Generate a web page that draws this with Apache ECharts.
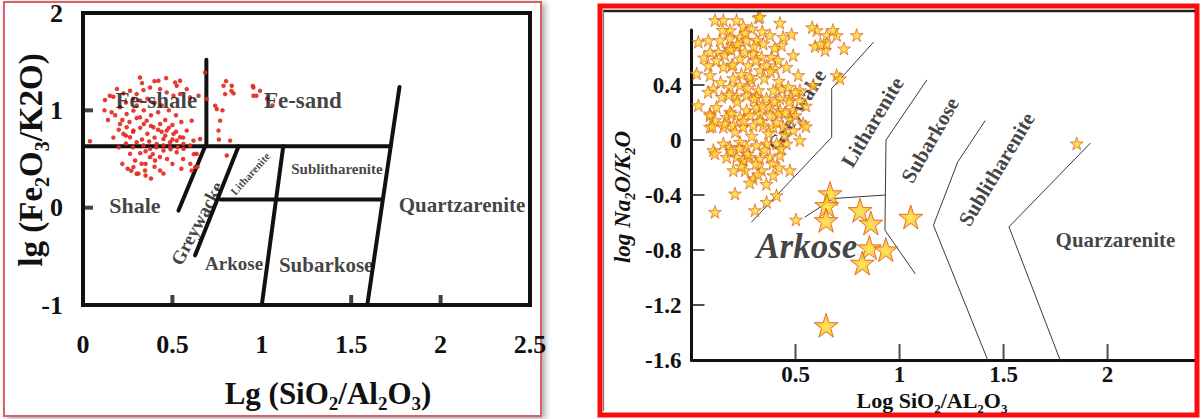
<!DOCTYPE html>
<html><head><meta charset="utf-8">
<script src="https://cdn.jsdelivr.net/npm/echarts@6/dist/echarts.min.js"></script>
<style>html,body{margin:0;padding:0;background:#fff}#c{width:1201px;height:419px}</style>
</head><body><div id="c"></div>
<script>
// ---------- LEFT PANEL DATA (Herron diagram) ----------
const leftXRange = [0, 2.5];
const leftYRange = [-1, 2];
const leftXTickMarks = [0.5, 1.5, 2];
const leftYTickMarks = [0, 1];
const leftLineFeBase = [[0, 0.63], [1.72, 0.63]];
const leftLineFeSplit = [[0.69, 1.52], [0.69, 0.63]];
const leftLineShaleGw = [[0.683, 0.63], [0.534, -0.03]];
const leftLineGwLith = [[0.87, 0.63], [0.627, -0.49]];
const leftLineMiddle = [[0.77, 0.085], [1.665, 0.085]];
const leftLineLithSub = [[1.12, 0.63], [1.0, -1]];
const leftLineQuartz = [[1.77, 1.24], [1.59, -1]];
const leftRegionNames = ['Fe-shale', 'Fe-sand', 'Shale', 'Greywacke', 'Litharenite', 'Sublitharenite', 'Quartzarenite', 'Arkose', 'Subarkose'];
const leftRegionAt = [[0.41, 1.10], [1.23, 1.10], [0.29, 0.025], [0.638, -0.16], [0.935, 0.35], [1.42, 0.40], [2.12, 0.025], [0.845, -0.57], [1.36, -0.59]];
const leftRegionRotate = [0, 0, 0, 62, 48, 0, 0, 0, 0];
const leftRegionSize = [23, 23, 22, 19, 11, 15, 21, 19, 21];
const leftDots = [
[0.319,1.338],[0.422,1.304],[0.465,1.331],[0.515,1.287],[0.524,1.252],[0.543,1.304],[0.580,1.218],[0.683,1.389],[0.786,1.252],[0.832,1.252],
[0.795,1.167],[0.842,1.174],[0.953,1.235],[0.953,1.150],[0.123,1.106],[0.170,1.140],[0.226,1.174],[0.263,1.201],[0.300,1.167],[0.338,1.208],
[0.375,1.235],[0.431,1.218],[0.468,1.184],[0.506,1.150],[0.543,1.167],[0.599,1.133],[0.646,1.150],[0.692,1.116],[0.739,1.048],[0.748,1.014],
[0.767,0.894],[0.758,0.792],[0.823,0.689],[0.804,0.536],[0.039,0.683],[0.207,1.031],[0.244,0.962],[0.282,0.997],[0.319,0.928],[0.356,0.894],
[0.394,0.826],[0.431,0.860],[0.468,0.792],[0.506,0.758],[0.543,0.724],[0.580,0.792],[0.608,0.894],[0.618,0.689],[0.655,0.706],[0.636,0.553],
[0.627,0.417],[0.608,0.382],[0.263,0.553],[0.291,0.485],[0.328,0.451],[0.347,0.382],[0.375,0.519],[0.403,0.485],[0.431,0.382],[0.300,0.348],
[0.282,0.417],[0.450,0.587],[0.487,0.621],[0.524,0.570],[0.562,0.604],[0.226,0.758],[0.263,0.724],[0.300,0.672],[0.338,0.638],[0.375,0.604],
[0.412,0.655],[0.450,0.706],[0.487,0.672],[0.524,0.689],[0.562,0.655],[0.599,0.638],[0.207,0.860],[0.244,0.826],[0.282,0.792],
[0.18,0.95],[0.22,0.90],[0.26,0.88],[0.30,1.05],[0.34,1.00],[0.38,0.95],[0.42,0.98],[0.46,0.90],[0.50,0.85],[0.24,1.08],
[0.28,1.12],[0.32,1.10],[0.36,1.12],[0.40,1.08],[0.44,1.05],[0.48,1.00],[0.52,0.95],[0.55,0.88],[0.20,0.80],[0.24,0.74],
[0.28,0.78],[0.32,0.82],[0.36,0.76],[0.40,0.72],[0.44,0.78],[0.48,0.82],[0.52,0.78],[0.56,0.72],[0.33,0.70],[0.37,0.68],
[0.41,0.62],[0.45,0.64],[0.49,0.60],[0.53,0.62],[0.35,0.58],[0.39,0.55],[0.43,0.52],[0.47,0.50],[0.32,0.56],[0.28,0.62],
[0.24,0.66],[0.20,0.62],[0.16,0.98],[0.14,0.90],[0.17,0.72],[0.30,0.92],[0.34,0.86],[0.38,0.84],[0.42,0.80],[0.46,0.74],
[0.50,0.70],[0.56,0.50],[0.60,0.45],[0.62,0.55],[0.22,0.45],[0.25,0.40],[0.35,0.45],[0.40,0.42],[0.50,0.45],[0.55,0.40],
[0.45,0.35],[0.38,0.30],[0.31,0.35],[0.35,0.33],[0.27,0.38],[0.64,0.42],[0.95,1.25],[0.99,1.20],[0.97,1.15],[1.06,1.05],
[1.03,1.12],[0.80,1.30],[0.83,1.20],[0.78,1.00],[0.76,0.70],[0.12,1.00],[0.15,1.15],[0.19,1.22],[0.33,1.28],[0.40,1.30]
];

// ---------- RIGHT PANEL DATA (Pettijohn diagram) ----------
const rightXRange = [0, 2.43];
const rightYRange = [-1.6, 0.8];
const rightXTickMarks = [0.5, 1, 1.5, 2];
const rightYTickMarks = [-1.2, -0.8, -0.4, 0, 0.4];
const rightLineGwLith = [[0.874, 0.71], [0.674, 0.375], [0.674, 0.02], [0.289, -0.596]];
const rightLineArkLith = [[0.546, -0.56], [0.682, -0.426], [0.93, -0.40]];
const rightLineLithSub = [[1.131, 0.435], [0.935, 0.0], [0.930, -0.656], [1.075, -0.972]];
const rightLineSubSubl = [[1.411, 0.139], [1.280, -0.159], [1.163, -0.62], [1.424, -1.6]];
const rightLineSublQz = [[1.916, -0.025], [1.526, -0.632], [1.772, -1.6]];
const rightRegionNames = ['Greywake', 'Litharenite', 'Subarkose', 'Sublitharenite', 'Quarzarenite'];
const rightRegionAt = [[0.506, 0.217], [0.870, 0.130], [1.147, 0.0], [1.467, -0.213], [2.038, -0.729]];
const rightRegionRotate = [58, 59, 60, 59, 0];
const rightArkoseAt = [0.554, -0.778];
const rightSmallStars = [
[0.113,0.872],[0.153,0.872],[0.217,0.872],[0.321,0.891],[0.425,0.852],[0.249,0.828],[0.289,0.811],[0.185,0.799],[0.033,0.714],[0.081,0.726],
[0.137,0.726],[0.185,0.739],[0.233,0.750],[0.265,0.726],[0.313,0.726],[0.345,0.702],[0.377,0.763],[0.433,0.690],[0.481,0.770],[0.602,0.799],
[0.650,0.763],[0.698,0.763],[0.794,0.763],[0.594,0.683],[0.642,0.654],[0.733,0.666],[0.650,0.702],[0.089,0.641],[0.129,0.641],[0.177,0.666],
[0.217,0.678],[0.257,0.641],[0.297,0.630],[0.337,0.605],[0.385,0.605],[0.417,0.581],[0.489,0.617],[0.025,0.484],[0.081,0.544],[0.089,0.472],
[0.153,0.532],[0.193,0.544],[0.233,0.593],[0.273,0.544],[0.329,0.508],[0.361,0.544],[0.401,0.520],[0.457,0.532],[0.513,0.472],[0.698,0.472],
[0.714,0.448],[0.105,0.375],[0.185,0.386],[0.233,0.399],[0.289,0.435],[0.321,0.362],[0.393,0.362],[0.433,0.375],[0.465,0.386],[0.521,0.362],
[0.585,0.399],[0.033,0.253],[0.145,0.314],[0.217,0.314],[0.265,0.326],[0.313,0.314],[0.361,0.302],[0.425,0.302],[0.473,0.314],[0.521,0.290],
[0.089,0.193],[0.185,0.205],[0.265,0.217],[0.313,0.241],[0.377,0.241],[0.425,0.217],[0.489,0.217],[0.329,0.896],
[0.089,0.180],[0.113,0.144],[0.169,0.168],[0.193,0.193],[0.233,0.168],[0.281,0.180],[0.329,0.193],[0.377,0.180],[0.417,0.193],[0.473,0.156],
[0.537,0.120],[0.089,0.095],[0.153,0.095],[0.201,0.108],[0.249,0.095],[0.297,0.108],[0.345,0.108],[0.393,0.095],[0.441,0.095],[0.489,0.071],
[0.521,-0.001],[0.105,-0.074],[0.113,-0.098],[0.153,-0.026],[0.185,-0.050],[0.233,-0.014],[0.265,-0.050],[0.313,-0.038],[0.361,-0.026],[0.409,-0.026],
[0.457,-0.026],[0.169,-0.123],[0.217,-0.123],[0.249,-0.147],[0.281,-0.123],[0.329,-0.135],[0.377,-0.123],[0.425,-0.111],[0.201,-0.220],[0.257,-0.220],
[0.297,-0.280],[0.337,-0.220],[0.393,-0.256],[0.473,-0.220],[0.209,-0.389],[0.113,-0.523],[0.305,-0.511],[0.361,-0.450],[0.409,-0.402],[0.502,-0.579],
[0.12,0.58],[0.16,0.62],[0.20,0.55],[0.24,0.48],[0.28,0.46],[0.31,0.58],[0.35,0.45],[0.38,0.50],[0.42,0.43],[0.14,0.42],
[0.18,0.33],[0.22,0.28],[0.27,0.38],[0.30,0.30],[0.34,0.25],[0.40,0.28],[0.45,0.20],[0.12,0.24],[0.16,0.12],[0.21,0.06],
[0.25,0.14],[0.29,0.03],[0.33,0.14],[0.37,0.05],[0.41,0.13],[0.45,0.04],[0.50,0.18],[0.19,-0.08],[0.23,-0.06],[0.27,-0.10],
[0.31,-0.17],[0.35,-0.07],[0.39,-0.17],[0.43,-0.06],[0.24,-0.19],[0.28,-0.31],[0.32,-0.25],[0.36,-0.32],[0.42,-0.20],[0.22,0.70],
[0.26,0.78],[0.30,0.68],[0.34,0.79],[0.40,0.67],[0.44,0.75],[0.15,0.80],[0.19,0.66],[0.08,0.35],[0.06,0.60],[0.20,0.45],
[0.47,0.28],[0.50,0.35],[0.55,0.25],[0.55,0.10],[0.58,0.82],[0.62,0.70],[0.68,0.80],[0.10,0.10],[1.852,-0.025]
];
const rightLargeStars = [
[0.666,-0.389],[0.650,-0.475],[0.647,-0.584],[0.810,-0.511],[0.862,-0.603],[0.855,-0.782],[0.934,-0.797],[0.821,-0.894],[1.054,-0.560],[0.647,-1.348]
];

// ---------- STYLE ----------
const SERIF = '"Liberation Serif", "DejaVu Serif", serif';
const STAR = 'path://M50,0 L61.8,35.1 L98.1,35.1 L68.8,56.7 L79.4,90.5 L50,69.5 L20.6,90.5 L31.2,56.7 L1.9,35.1 L38.2,35.1 Z';
const starFill = {type: 'radial', x: 0.5, y: 0.55, r: 0.55, colorStops: [{offset: 0, color: '#ffe22e'}, {offset: 1, color: '#f7a21a'}]};

function lineSeries(data, grid, width, color) {
  return {type: 'line', xAxisIndex: grid, yAxisIndex: grid, data: data, symbol: 'none', silent: true,
    lineStyle: {width: width, color: color, cap: 'round', join: 'round'}, z: 3, animation: false};
}
// tick marks drawn on the axes as small rectangles placed through the axis scales
function tickSeries(data, grid, size, offset, color) {
  return {type: 'scatter', xAxisIndex: grid, yAxisIndex: grid, data: data, symbol: 'rect', symbolSize: size,
    symbolOffset: offset, clip: false, silent: true, z: 7, itemStyle: {color: color}};
}

const leftLines = [leftLineFeBase, leftLineFeSplit, leftLineShaleGw, leftLineGwLith, leftLineMiddle, leftLineLithSub, leftLineQuartz];
const rightLines = [rightLineGwLith, rightLineArkLith, rightLineLithSub, rightLineSubSubl, rightLineSublQz];

const subRich = (size, italic) => ({
  a: {fontSize: size, fontFamily: SERIF, fontWeight: 'bold', fontStyle: italic ? 'italic' : 'normal', lineHeight: size + 8, verticalAlign: 'middle', fill: '#111'},
  s: {fontSize: Math.round(size * 0.6), fontFamily: SERIF, fontWeight: 'bold', fontStyle: italic ? 'italic' : 'normal', lineHeight: Math.round(size * 0.6), verticalAlign: 'bottom', fill: '#111'}
});

const chart = echarts.init(document.getElementById('c'), null, {renderer: 'svg', width: 1201, height: 419});

const option = {
  animation: false,
  backgroundColor: '#ffffff',
  grid: [
    {left: 83, top: 12, width: 447, height: 293, show: true, borderWidth: 4, borderColor: '#111', backgroundColor: 'transparent'},
    {left: 691.5, top: 30, width: 505.5, height: 330, show: false}
  ],
  xAxis: [
    {gridIndex: 0, type: 'value', min: leftXRange[0], max: leftXRange[1], interval: 0.5,
      axisLine: {show: true, onZero: false, lineStyle: {width: 4, color: '#111'}}, splitLine: {show: false},
      axisTick: {show: false},
      axisLabel: {fontFamily: SERIF, fontWeight: 'bold', fontSize: 26, color: '#111', margin: 26}},
    {gridIndex: 1, type: 'value', min: rightXRange[0], max: rightXRange[1], interval: 0.5,
      axisLine: {show: true, onZero: false, lineStyle: {width: 3, color: '#111'}}, splitLine: {show: false},
      axisTick: {show: false},
      axisLabel: {fontFamily: SERIF, fontWeight: 'bold', fontSize: 23, color: '#111', margin: 3, showMinLabel: false, showMaxLabel: false}}
  ],
  yAxis: [
    {gridIndex: 0, type: 'value', min: leftYRange[0], max: leftYRange[1], interval: 1,
      axisLine: {show: true, onZero: false, lineStyle: {width: 4, color: '#111'}}, splitLine: {show: false},
      axisTick: {show: false},
      axisLabel: {fontFamily: SERIF, fontWeight: 'bold', fontSize: 26, color: '#111', margin: 20}},
    {gridIndex: 1, type: 'value', min: rightYRange[0], max: rightYRange[1], interval: 0.4,
      axisLine: {show: true, onZero: false, lineStyle: {width: 3, color: '#111'}}, splitLine: {show: false},
      axisTick: {show: false},
      axisLabel: {fontFamily: SERIF, fontWeight: 'bold', fontSize: 23, color: '#111', margin: 10, showMaxLabel: false}}
  ],
  graphic: [
    {type: 'rect', z: -10, shape: {x: 4, y: 2, width: 537, height: 414},
      style: {fill: '#fff', stroke: '#d86466', lineWidth: 2, shadowBlur: 6, shadowColor: 'rgba(0,0,0,0.35)', shadowOffsetX: 3, shadowOffsetY: 2}},
    {type: 'rect', z: 10, shape: {x: 600, y: 6, width: 597, height: 409},
      style: {fill: 'none', stroke: '#fb0d0d', lineWidth: 5}},
    {type: 'line', z: 10, shape: {x1: 603, y1: 11, x2: 1195, y2: 11}, style: {stroke: '#222', lineWidth: 2.5}},
    {type: 'line', z: 10, shape: {x1: 603.5, y1: 11, x2: 603.5, y2: 411}, style: {stroke: '#777', lineWidth: 1.2}},
    {type: 'text', x: 31, y: 160, rotation: Math.PI / 2, z: 10,
      style: {text: '{a|lg (Fe}{s|2}{a|O}{s|3}{a|/K2O)}', rich: subRich(33, false), align: 'center', verticalAlign: 'middle'}},
    {type: 'text', x: 328, y: 393, z: 10,
      style: {text: '{a|Lg (SiO}{s|2}{a|/Al}{s|2}{a|O}{s|3}{a|)}', rich: subRich(31, false), align: 'center', verticalAlign: 'middle'}},
    {type: 'text', x: 622, y: 197, rotation: Math.PI / 2, z: 10,
      style: {text: '{a|log Na}{s|2}{a|O/K}{s|2}{a|O}', rich: subRich(23, true), align: 'center', verticalAlign: 'middle'}},
    {type: 'text', x: 932, y: 400, z: 10,
      style: {text: '{a|Log SiO}{s|2}{a|/AL}{s|2}{a|O}{s|3}', rich: subRich(22, false), align: 'center', verticalAlign: 'middle'}}
  ],
  series: [
    ...leftLines.map(d => lineSeries(d, 0, 4, '#111')),
    tickSeries(leftXTickMarks.map(v => [v, leftYRange[0]]), 0, [4, 10], [0, -5], '#111'),
    tickSeries(leftYTickMarks.map(v => [leftXRange[0], v]), 0, [10, 4], [5, 0], '#111'),
    {type: 'scatter', xAxisIndex: 0, yAxisIndex: 0, data: leftDots, symbol: 'circle', symbolSize: 4.5, silent: true, z: 4,
      itemStyle: {color: '#e2271d', opacity: 0.9}},
    {type: 'scatter', xAxisIndex: 0, yAxisIndex: 0, symbolSize: 1, silent: true, z: 6, itemStyle: {color: 'rgba(0,0,0,0)'},
      data: leftRegionNames.map((n, i) => ({value: leftRegionAt[i], label: {show: true, position: 'inside', formatter: n,
        rotate: leftRegionRotate[i], fontSize: leftRegionSize[i], fontFamily: SERIF, fontWeight: 'bold', color: '#111'}}))},
    ...rightLines.map(d => lineSeries(d, 1, 1, '#3a3a3a')),
    tickSeries(rightXTickMarks.map(v => [v, rightYRange[0]]), 1, [2, 16], [0, -8], '#222'),
    tickSeries(rightYTickMarks.map(v => [rightXRange[0], v]), 1, [13, 2], [6.5, 0], '#222'),
    {type: 'scatter', xAxisIndex: 1, yAxisIndex: 1, symbolSize: 1, silent: true, z: 2, itemStyle: {color: 'rgba(0,0,0,0)'},
      data: rightRegionNames.map((n, i) => ({value: rightRegionAt[i], label: {show: true, position: 'inside', formatter: n,
        rotate: rightRegionRotate[i], fontSize: 21, fontFamily: SERIF, fontWeight: 'bold', color: '#111'}}))
        .concat([{value: rightArkoseAt, label: {show: true, position: 'inside', formatter: 'Arkose', fontSize: 35,
          fontFamily: SERIF, fontWeight: 'bold', fontStyle: 'italic', color: '#111'}}])},
    {type: 'scatter', xAxisIndex: 1, yAxisIndex: 1, data: rightSmallStars, symbol: STAR, symbolSize: 13, clip: false, silent: true, z: 5,
      itemStyle: {color: starFill, borderColor: '#d65d17', borderWidth: 0.8}},
    {type: 'scatter', xAxisIndex: 1, yAxisIndex: 1, data: rightLargeStars, symbol: STAR, symbolSize: 24, clip: false, silent: true, z: 5,
      itemStyle: {color: starFill, borderColor: '#d65d17', borderWidth: 1}}
  ]
};
chart.setOption(option);
</script>
</body></html>
